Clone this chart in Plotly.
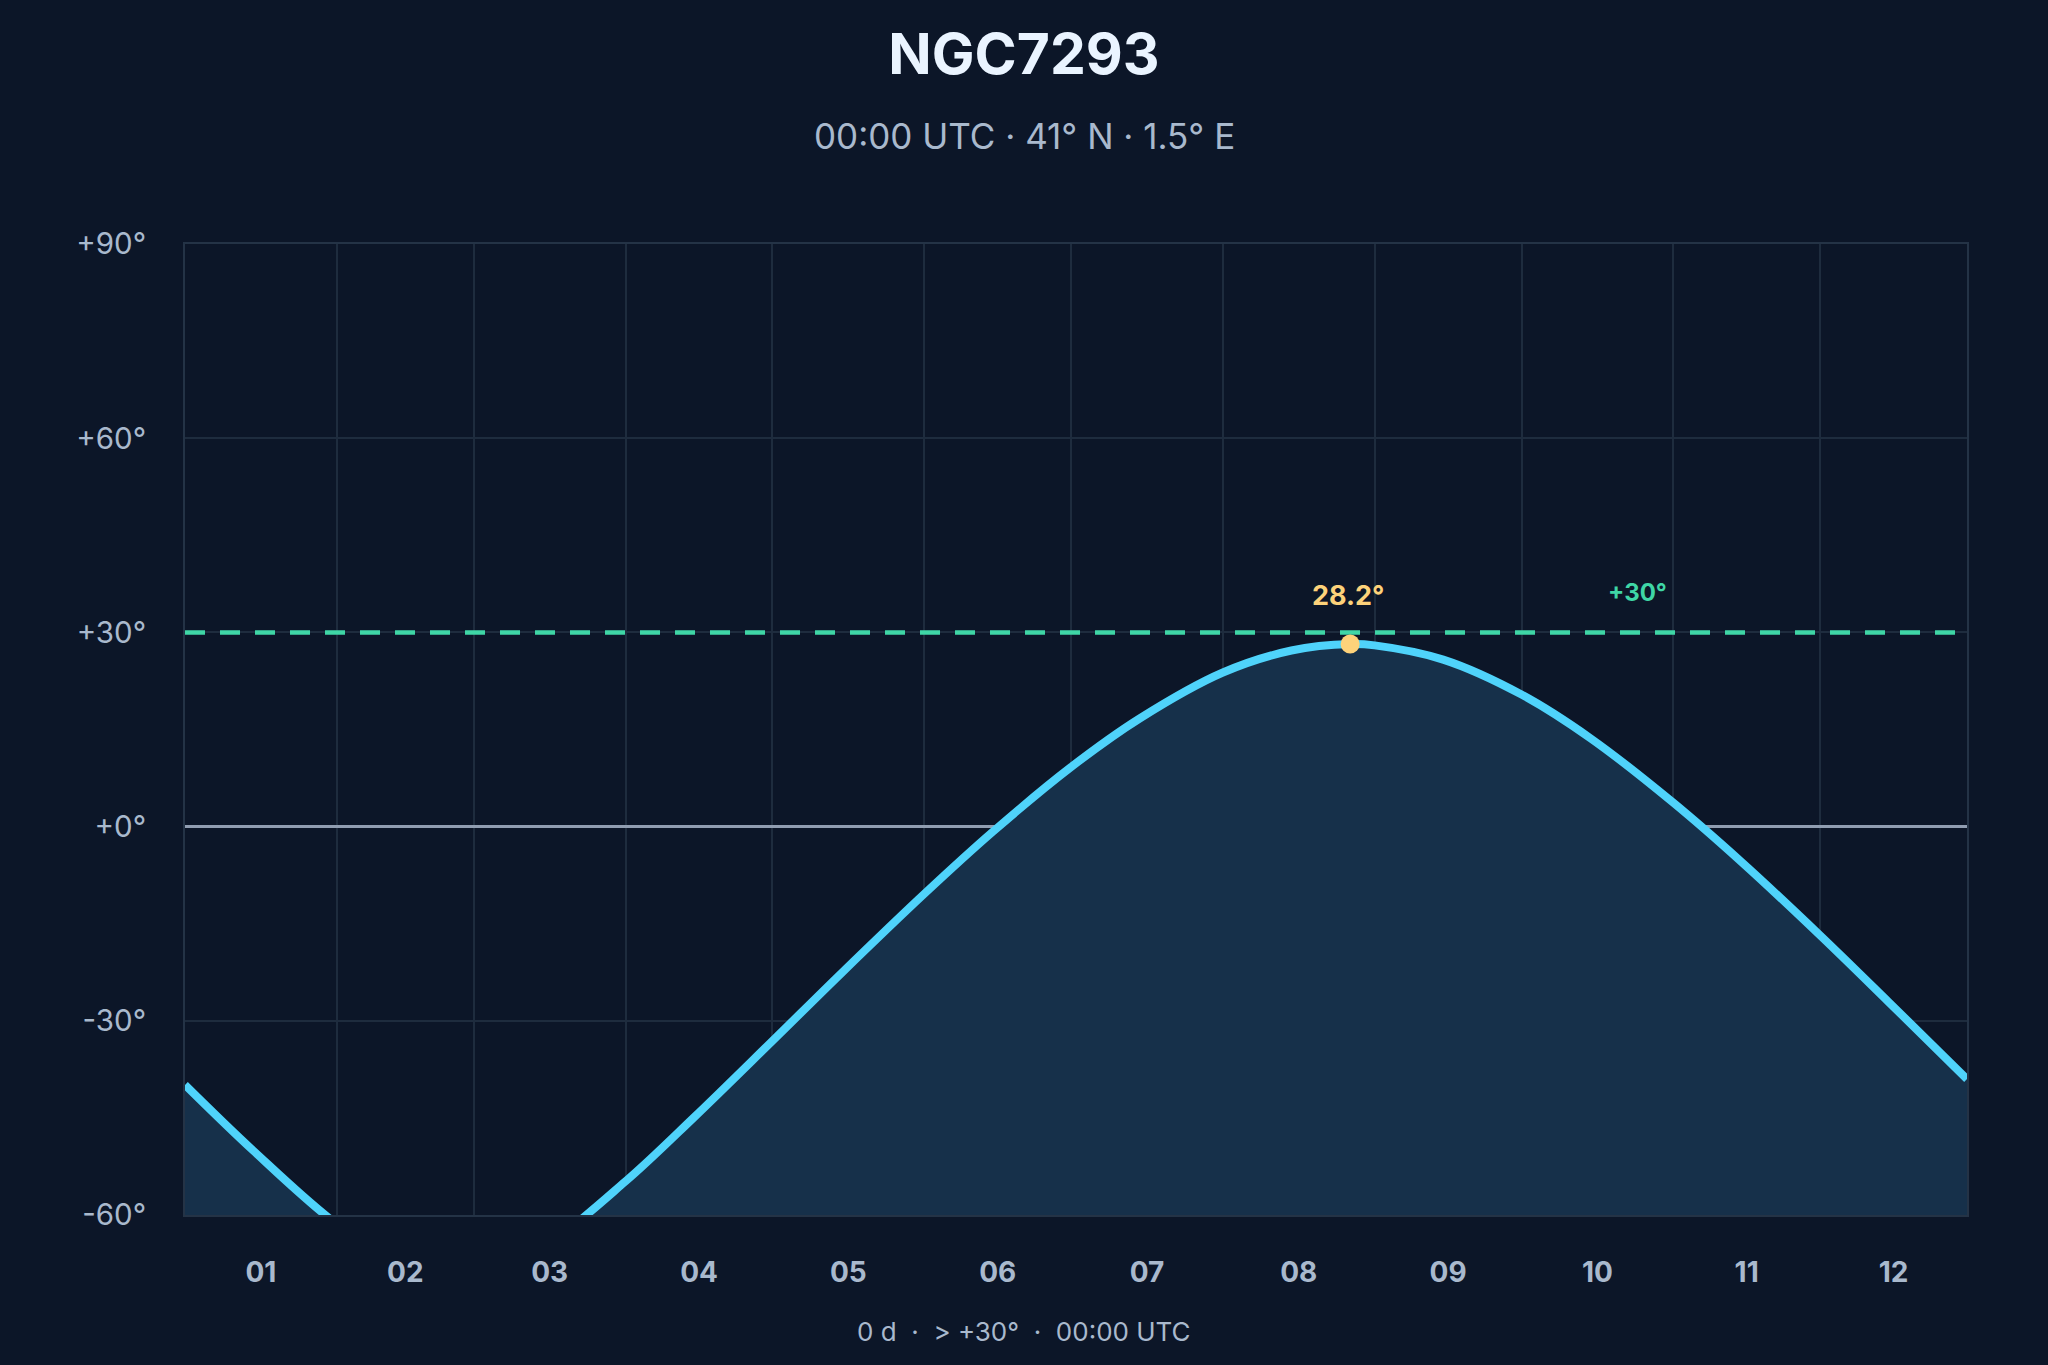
import plotly.graph_objects as go

# altitude of NGC7293 at 00:00 UTC
dates = ["2025-01-01", "2025-01-15", "2025-02-01", "2025-02-15", "2025-03-01",
         "2025-03-15", "2025-04-01", "2025-04-15", "2025-05-01", "2025-05-15",
         "2025-06-01", "2025-06-15", "2025-07-01", "2025-07-15", "2025-08-01",
         "2025-08-15", "2025-08-27", "2025-09-01", "2025-09-15", "2025-10-01",
         "2025-10-15", "2025-11-01", "2025-11-15", "2025-12-01", "2025-12-15",
         "2025-12-31"]
altitude = [-39.9, -50.1, -61.4, -68.0, -69.6, -65.0, -54.8, -44.9, -33.1, -22.7,
            -10.4, -0.8, 9.2, 16.7, 23.8, 27.2, 28.2, 28.0, 25.8, 20.4,
            13.7, 3.7, -5.5, -16.8, -27.1, -39.0]

peak_date = "2025-08-27"
peak_alt = 28.2
threshold = 30
floor_alt = -90

y_ticks = [-60, -30, 0, 30, 60, 90]
y_labels = ["-60°", "-30°", "+0°", "+30°", "+60°", "+90°"]

BG = "#0c1628"
TXT = "#a9b9cd"
GREEN = "#3fd6a6"
FONT = "Inter"

# page centre expressed in plot (paper) coordinates
L, R, W = 185, 81, 2048
page_mid = (W / 2 - L) / (W - L - R)

fig = go.Figure()

# invisible floor so the fill goes down to the bottom of the plot
fig.add_trace(go.Scatter(x=[dates[0], dates[-1]], y=[floor_alt, floor_alt],
                         mode="lines", line=dict(width=0), hoverinfo="skip",
                         showlegend=False))
fig.add_trace(go.Scatter(x=dates, y=altitude, mode="lines",
                         line=dict(color="#4fd3fb", width=8, shape="spline"),
                         fill="tonexty", fillcolor="#16304a", showlegend=False))
# +30 threshold
fig.add_trace(go.Scatter(x=[dates[0], dates[-1]], y=[threshold, threshold],
                         mode="lines", hoverinfo="skip", showlegend=False,
                         line=dict(color=GREEN, width=4.5, dash="20px,15px")))
fig.add_trace(go.Scatter(x=[peak_date], y=[peak_alt], mode="markers",
                         marker=dict(color="#fdd27a", size=19), showlegend=False))

fig.add_annotation(x=peak_date, y=peak_alt, text="<b>28.2°</b>", showarrow=False,
                   yshift=49, xshift=-2,
                   font=dict(family=FONT, size=27, color="#fdd27a"))
fig.add_annotation(xref="paper", x=0.815, xanchor="center", y=threshold,
                   text="<b>+30°</b>", showarrow=False, yshift=40,
                   font=dict(family=FONT, size=24, color=GREEN))
fig.add_annotation(xref="paper", yref="paper", x=page_mid, xanchor="center",
                   y=1.111, yanchor="middle",
                   text="00:00 UTC · 41° N · 1.5° E", showarrow=False,
                   font=dict(family=FONT, size=35, color=TXT))
fig.add_annotation(xref="paper", yref="paper", x=page_mid, xanchor="center",
                   y=-0.1195, yanchor="middle",
                   text="0 d  ·  > +30°  ·  00:00 UTC", showarrow=False,
                   font=dict(family=FONT, size=26, color=TXT))

fig.update_layout(
    width=W, height=1365,
    paper_bgcolor=BG, plot_bgcolor=BG,
    margin=dict(l=L, r=R, t=244, b=150),
    title=dict(text="<b>NGC7293</b>", x=0.5, xanchor="center",
               y=1 - 54 / 1365, yanchor="middle", yref="container",
               font=dict(family=FONT, size=57, color="#eaf4ff")),
    font=dict(family=FONT, color=TXT),
)
fig.update_xaxes(
    type="date", range=["2025-01-01", "2025-12-31"],
    dtick="M1", tick0="2025-01-01", ticklabelmode="period", tickformat="%m",
    showgrid=True, gridcolor="#1e2c3e", gridwidth=1.5,
    showline=True, linecolor="#243346", linewidth=2, mirror=True,
    ticks="", ticklabelstandoff=31,
    tickfont=dict(family=FONT, size=28, color=TXT, weight="bold"),
)
fig.update_yaxes(
    range=[-60, 90], tickvals=y_ticks, ticktext=y_labels,
    showgrid=True, gridcolor="#1e2c3e", gridwidth=1.5,
    zeroline=True, zerolinecolor="#909db1", zerolinewidth=3,
    showline=True, linecolor="#243346", linewidth=2, mirror=True,
    ticks="", ticklabelstandoff=31,
    tickfont=dict(family=FONT, size=29.5, color=TXT),
)

fig.write_html("out.html", config={"displayModeBar": False},
               post_script="document.body.style.margin='0';"
                           "document.body.style.background='#0c1628';")
